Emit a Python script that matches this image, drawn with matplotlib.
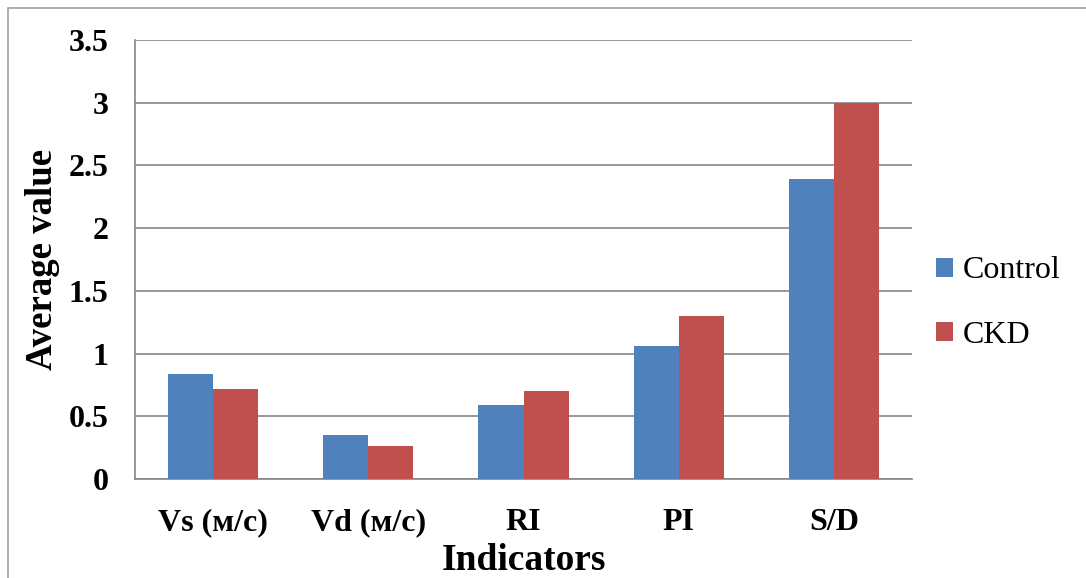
import matplotlib.pyplot as plt
import numpy as np
from matplotlib.patches import Rectangle

categories = ['Vs (м/с)', 'Vd (м/с)', 'RI', 'PI', 'S/D']
control = [0.84, 0.35, 0.59, 1.06, 2.39]
ckd = [0.72, 0.26, 0.70, 1.30, 3.00]
yticks = [0, 0.5, 1, 1.5, 2, 2.5, 3, 3.5]
ytick_labels = ['0', '0.5', '1', '1.5', '2', '2.5', '3', '3.5']

plt.rcParams['font.family'] = ['Liberation Serif', 'DejaVu Serif']

fig = plt.figure(figsize=(10.86, 5.78), dpi=100)
ax = fig.add_axes([135/1086, 99/578, 777/1086, 439/578])

x = np.arange(len(categories))
w = 0.29
ax.bar(x - w/2, control, w, color='#4F81BD', label='Control', zorder=3)
ax.bar(x + w/2, ckd, w, color='#C0504D', label='CKD', zorder=3)

ax.set_xlim(-0.5, len(categories) - 0.5)
ax.set_ylim(0, 3.5)
ax.set_yticks(yticks)
ax.set_yticklabels(ytick_labels, fontsize=23, fontweight='bold')
ax.set_xticks(x)
ax.set_xticklabels(categories, fontsize=23, fontweight='bold')
ax.tick_params(axis='y', length=0, pad=19)
ax.tick_params(axis='x', length=0, pad=21)
ax.yaxis.grid(True, color='#868686', linewidth=1.2, zorder=0)

for s in ['top', 'right']:
    ax.spines[s].set_visible(False)
for s in ['left', 'bottom']:
    ax.spines[s].set_color('#868686')
    ax.spines[s].set_linewidth(1.2)

ax.set_xlabel('Indicators', fontsize=27, fontweight='bold', labelpad=4)
ax.set_ylabel('Average value', fontsize=26.5, fontweight='bold', labelpad=6)

fig.legend(loc='center left', bbox_to_anchor=(907/1086, 1 - 303/578),
           frameon=False, fontsize=23, handlelength=0.55, handleheight=0.55,
           handletextpad=0.3, labelspacing=1.1)

# outer frame
fig.patches.append(Rectangle((8/1086, -0.05), 1.1, 1 - 8/578 + 0.05,
                             transform=fig.transFigure, fill=False,
                             edgecolor='#a0a0a0', linewidth=1.2))

fig.savefig('out.png', dpi=100)
